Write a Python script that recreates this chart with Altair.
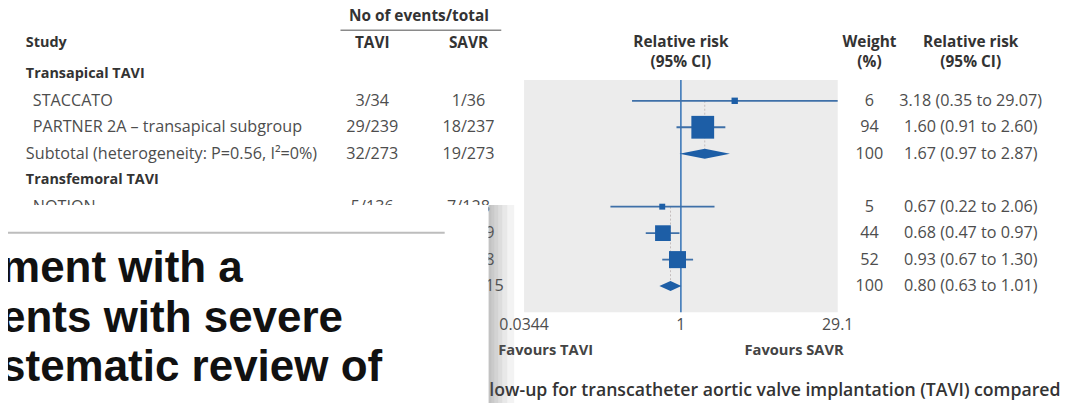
import altair as alt
import pandas as pd

# ---------------- data ----------------
# rows 5-7 of the left table are hidden behind the pasted title box in the
# reference; only the last characters of their SAVR column peek out.
study = ["STACCATO", "PARTNER 2A – transapical subgroup",
         "Subtotal (heterogeneity: P=0.56, I²=0%)",
         "NOTION", "", "", ""]
row = [0, 1, 2, 4, 5, 6, 7]
kind = ["study", "study", "subtotal", "study", "study", "study", "subtotal"]
tavi = ["3/34", "29/239", "32/273", "5/136", "", "", ""]
savr = ["1/36", "18/237", "19/273", "7/128", "69/769", "61/818", "137/1715"]
weight = [6, 94, 100, 5, 44, 52, 100]
rr = [3.18, 1.60, 1.67, 0.67, 0.68, 0.93, 0.80]
lo = [0.35, 0.91, 0.97, 0.22, 0.47, 0.67, 0.63]
hi = [29.07, 2.60, 2.87, 2.06, 0.97, 1.30, 1.01]
group_names = ["Transapical TAVI", "Transfemoral TAVI"]
group_rows = [-1, 3]
ticks = [0.0344, 1, 29.1]
tick_labels = ["0.0344", "1", "29.1"]
caption = "low-up for transcatheter aortic valve implantation (TAVI) compared"
overlay_lines = ["ment with a", "ents with severe", "stematic review of"]

# ---------------- layout ----------------
W, H = 1065, 395
ROW = 26.67
Y0 = 92
FONT = "Open Sans"
BLUE = "#1d5ea6"
TXT = "#4d4d4d"
HDR = "#333333"
BODY = 16.3
HSZ = 15.5

PX = alt.Scale(domain=[0, W], range=[0, W], nice=False, zero=False)
FX = alt.Scale(type="log", domain=[ticks[0], ticks[-1]], range=[520, 836], nice=False)
YS = alt.Scale(domain=[0, 7], range=[Y0, Y0 + 7 * ROW], nice=False, zero=False)


def yrow(py):
    return (py - 8 - Y0) / ROW


def text_layer(df, align="center", size=BODY, weight="normal", color=TXT,
               font=FONT, xscale=PX, baseline="middle"):
    return alt.Chart(df).mark_text(
        align=align, baseline=baseline, fontSize=size, fontWeight=weight,
        color=color, font=font
    ).encode(
        x=alt.X("x:Q", scale=xscale, axis=None),
        y=alt.Y("y:Q", scale=YS, axis=None),
        text="t:N",
    )


studies = pd.DataFrame(dict(study=study, row=row, kind=kind, tavi=tavi, savr=savr,
                            weight=weight, rr=rr, lo=lo, hi=hi))
studies["rrtxt"] = [f"{a:.2f} ({b:.2f} to {c:.2f})" for a, b, c in zip(rr, lo, hi)]
studies["sx"] = [25 if k == "study" else 18 for k in kind]

# panel
panel_df = pd.DataFrame({"x": [ticks[0]], "x2": [ticks[-1]], "y": [yrow(79)], "y2": [yrow(313)]})
panel = alt.Chart(panel_df).mark_rect(color="#ececec").encode(
    x=alt.X("x:Q", scale=FX, axis=None), x2="x2:Q",
    y=alt.Y("y:Q", scale=YS, axis=None), y2="y2:Q")

null_line = alt.Chart(pd.DataFrame({"x": [1], "y": [yrow(79)], "y2": [yrow(313)]})).mark_rule(
    color="#3d78b8", strokeWidth=1.6).encode(
    x=alt.X("x:Q", scale=FX, axis=None), y=alt.Y("y:Q", scale=YS, axis=None), y2="y2:Q")

sub = studies[studies.kind == "subtotal"]
pooled_df = pd.DataFrame({"x": list(sub.rr), "y": [0, 4], "y2": list(sub.row)})
pooled = alt.Chart(pooled_df).mark_rule(color="#c4bcbc", strokeDash=[2, 2], strokeWidth=1).encode(
    x=alt.X("x:Q", scale=FX, axis=None), y=alt.Y("y:Q", scale=YS, axis=None), y2="y2:Q")

st = studies[studies.kind == "study"]
ci = alt.Chart(st).mark_rule(color="#3f70a8", strokeWidth=1.8).encode(
    x=alt.X("lo:Q", scale=FX, axis=None), x2="hi:Q",
    y=alt.Y("row:Q", scale=YS, axis=None))

squares = alt.Chart(st).mark_square(color=BLUE, opacity=1, filled=True).encode(
    x=alt.X("rr:Q", scale=FX, axis=None),
    y=alt.Y("row:Q", scale=YS, axis=None),
    size=alt.Size("weight:Q", scale=alt.Scale(domain=[0, 100], range=[8, 560]), legend=None))

HALF = 0.19
dia_rows = []
for _, r in sub.iterrows():
    dia_rows += [
        {"g": r.row, "x": r.lo, "y1": r.row, "y2": r.row},
        {"g": r.row, "x": r.rr, "y1": r.row - HALF, "y2": r.row + HALF},
        {"g": r.row, "x": r.hi, "y1": r.row, "y2": r.row},
    ]
diamonds = alt.Chart(pd.DataFrame(dia_rows)).mark_area(color=BLUE, opacity=1).encode(
    x=alt.X("x:Q", scale=FX, axis=None),
    y=alt.Y("y1:Q", scale=YS, axis=None), y2="y2:Q", detail="g:N")

# table text
t_study = alt.Chart(studies).mark_text(align="left", baseline="middle", fontSize=BODY,
                                       color=TXT, font=FONT).encode(
    x=alt.X("sx:Q", scale=PX, axis=None), y=alt.Y("row:Q", scale=YS, axis=None), text="study:N")


def col(field, px):
    return alt.Chart(studies).mark_text(align="center", baseline="middle", fontSize=BODY,
                                        color=TXT, font=FONT).encode(
        x=alt.X("cx:Q", scale=PX, axis=None), y=alt.Y("row:Q", scale=YS, axis=None),
        text=f"{field}:N").transform_calculate(cx=str(px))


t_tavi = col("tavi", 367)
t_savr = col("savr", 464)
t_w = col("weight", 868)
t_rr = col("rrtxt", 970)

groups = text_layer(pd.DataFrame({"x": [18, 18], "y": group_rows, "t": group_names}),
                    align="left", size=14.5, weight="bold", color=HDR)

hdr_left = text_layer(pd.DataFrame({"x": [18], "y": [yrow(42)], "t": ["Study"]}),
                      align="left", size=14.5, weight="bold", color=HDR)
hdr_ctr = text_layer(pd.DataFrame({
    "x": [367, 464, 868, 970, 414],
    "y": [yrow(42), yrow(42), yrow(41), yrow(41), yrow(15)],
    "t": ["TAVI", "SAVR", "Weight", "Relative risk", "No of events/total"],
}), align="center", size=HSZ, weight="bold", color=HDR)
hdr2 = text_layer(pd.DataFrame({"x": [868, 970], "y": [yrow(61)] * 2, "t": ["(%)", "(95% CI)"]}),
                  align="center", size=HSZ, weight="bold", color=HDR)
hdr_rr = text_layer(pd.DataFrame({"x": [1, 1], "y": [yrow(41), yrow(61)],
                                  "t": ["Relative risk", "(95% CI)"]}),
                    align="center", size=HSZ, weight="bold", color=HDR, xscale=FX)
underline = alt.Chart(pd.DataFrame({"x": [335], "x2": [497], "y": [yrow(29)]})).mark_rule(
    color="#8a8a8a", strokeWidth=1.5).encode(
    x=alt.X("x:Q", scale=PX, axis=None), x2="x2:Q", y=alt.Y("y:Q", scale=YS, axis=None))

tick_txt = text_layer(pd.DataFrame({"x": ticks, "y": [yrow(326)] * 3, "t": tick_labels}),
                      align="center", size=16, xscale=FX)
fav = pd.DataFrame({"x": [494, 842], "y": [yrow(352)] * 2, "t": ["Favours TAVI", "Favours SAVR"]})
fav_l = text_layer(fav.iloc[:1], align="left", size=14.8, weight="bold", color="#444")
fav_r = text_layer(fav.iloc[1:], align="right", size=14.8, weight="bold", color="#444")
cap = text_layer(pd.DataFrame({"x": [485], "y": [yrow(392)], "t": [caption]}),
                 align="left", size=17.8, weight=600, color="#333")

# overlay (pasted article title box)
shadow_df = pd.DataFrame({"x": [484] * 6, "x2": [487, 490, 494, 498, 503, 510],
                          "y": [yrow(205)] * 6, "y2": [yrow(420)] * 6})
shadow = alt.Chart(shadow_df).mark_rect(color="#666", opacity=0.08).encode(
    x=alt.X("x:Q", scale=PX, axis=None), x2="x2:Q",
    y=alt.Y("y:Q", scale=YS, axis=None), y2="y2:Q")
box = alt.Chart(pd.DataFrame({"x": [-10], "x2": [484], "y": [yrow(205)], "y2": [yrow(420)]})).mark_rect(
    color="white").encode(
    x=alt.X("x:Q", scale=PX, axis=None), x2="x2:Q",
    y=alt.Y("y:Q", scale=YS, axis=None), y2="y2:Q")
box_line = alt.Chart(pd.DataFrame({"x": [-10], "x2": [440], "y": [yrow(233)]})).mark_rule(
    color="#bdbdbd", strokeWidth=2).encode(
    x=alt.X("x:Q", scale=PX, axis=None), x2="x2:Q", y=alt.Y("y:Q", scale=YS, axis=None))
big = text_layer(pd.DataFrame({"x": [-7] * 3, "y": [yrow(283), yrow(333), yrow(382)],
                               "t": overlay_lines}),
                 align="left", size=44.3, weight="bold", color="#111",
                 font="Liberation Sans", baseline="alphabetic")

chart = alt.layer(
    panel, null_line, pooled, ci, squares, diamonds,
    t_study, t_tavi, t_savr, t_w, t_rr, groups, hdr_left, hdr_ctr, hdr2, hdr_rr, underline,
    tick_txt, fav_l, fav_r, cap,
    shadow, box, box_line, big,
).resolve_scale(x="independent").properties(
    width=W, height=H, padding=0, autosize=alt.AutoSizeParams(type="none")
).configure_view(stroke=None)

chart.save("out.html", embed_options={"renderer": "svg", "actions": False})
